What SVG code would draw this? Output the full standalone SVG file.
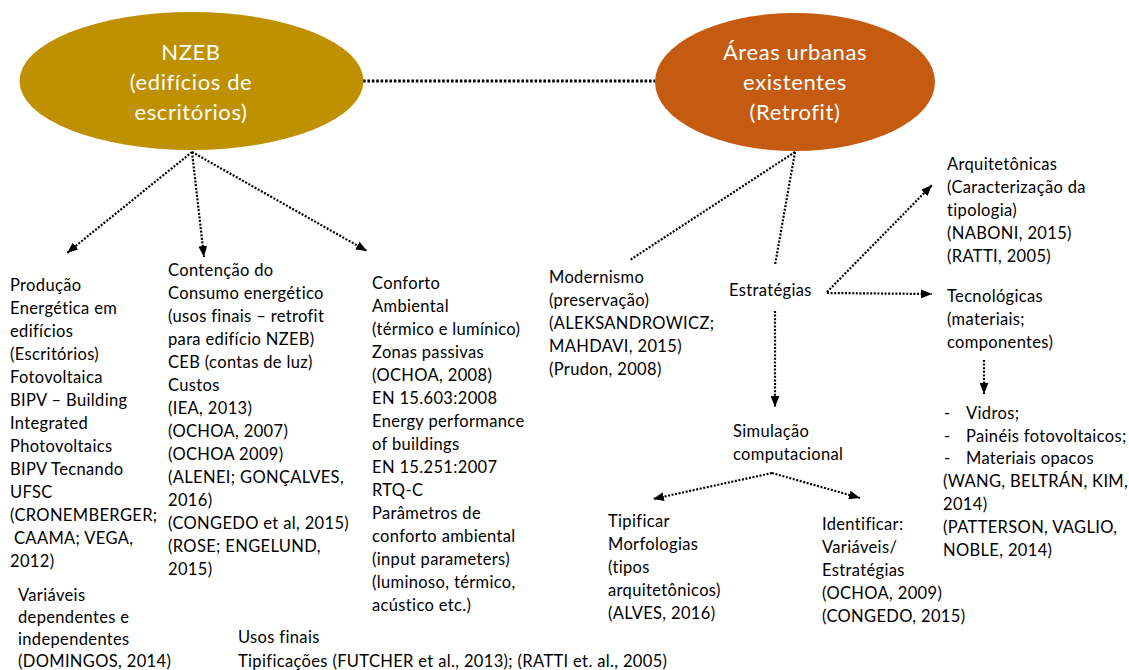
<svg xmlns="http://www.w3.org/2000/svg" width="1129" height="670" viewBox="0 0 1129 670">
  <style>
    .lbl { font-family: Lato, "Liberation Sans", sans-serif; font-size: 16.5px; letter-spacing: 0.35px; fill: #000; }
    .hub { font-family: Lato, "Liberation Sans", sans-serif; font-size: 22px; letter-spacing: 0.6px; fill: #fff; text-anchor: middle; }
    .dot { fill: none; stroke: #000; stroke-width: 2.2; stroke-dasharray: 2 1.6; }
    .dotw { fill: none; stroke: #000; stroke-width: 2.8; stroke-dasharray: 2.6 1.8; }
  </style>
  <defs>
    <marker id="arrow" viewBox="0 0 10 8" refX="10" refY="4" markerWidth="11" markerHeight="9" markerUnits="userSpaceOnUse" orient="auto">
      <path d="M0,0 L10,4 L0,8 Z" fill="#000"/>
    </marker>
  </defs>

  <rect width="1129" height="670" fill="#fff"/>

  <!-- connectors -->
  <g id="connectors">
    <line class="dotw" x1="363" y1="81" x2="655" y2="81"/>
    <line class="dot" x1="192" y1="152" x2="67" y2="253" marker-end="url(#arrow)"/>
    <line class="dot" x1="192" y1="152" x2="204" y2="257" marker-end="url(#arrow)"/>
    <line class="dot" x1="192" y1="152" x2="367" y2="251" marker-end="url(#arrow)"/>
    <line class="dot" x1="795" y1="152" x2="630" y2="260"/>
    <line class="dot" x1="795" y1="152" x2="775" y2="265"/>
    <line class="dot" x1="827" y1="292" x2="932" y2="185" marker-end="url(#arrow)"/>
    <line class="dot" x1="827" y1="293" x2="932" y2="294" marker-end="url(#arrow)"/>
    <line class="dot" x1="775" y1="311" x2="775" y2="407" marker-end="url(#arrow)"/>
    <line class="dot" x1="772" y1="473" x2="653" y2="499" marker-end="url(#arrow)"/>
    <line class="dot" x1="772" y1="473" x2="860" y2="498" marker-end="url(#arrow)"/>
    <line class="dot" x1="984" y1="360" x2="984" y2="394" marker-end="url(#arrow)"/>
  </g>

  <!-- hub: NZEB -->
  <g id="nzeb">
    <ellipse cx="191.5" cy="81" rx="172" ry="69" fill="#BF9000"/>
    <text class="hub"><tspan x="191" y="60">NZEB</tspan><tspan x="191" y="90">(edifícios de</tspan><tspan x="191" y="120">escritórios)</tspan></text>
  </g>

  <!-- hub: existing urban areas -->
  <g id="retrofit">
    <ellipse cx="795" cy="82" rx="140" ry="69" fill="#C55A11"/>
    <text class="hub"><tspan x="795" y="60">Áreas urbanas</tspan><tspan x="795" y="90">existentes</tspan><tspan x="795" y="120">(Retrofit)</tspan></text>
  </g>

  <g id="producao">
    <text class="lbl">
      <tspan x="10" y="291">Produção</tspan>
      <tspan x="10" y="314">Energética em</tspan>
      <tspan x="10" y="337">edifícios</tspan>
      <tspan x="10" y="360">(Escritórios)</tspan>
      <tspan x="10" y="383">Fotovoltaica</tspan>
      <tspan x="10" y="406">BIPV – Building</tspan>
      <tspan x="10" y="429">Integrated</tspan>
      <tspan x="10" y="452">Photovoltaics</tspan>
      <tspan x="10" y="475">BIPV Tecnando</tspan>
      <tspan x="10" y="498">UFSC</tspan>
      <tspan x="10" y="521">(CRONEMBERGER;</tspan>
      <tspan x="14" y="544">CAAMA; VEGA,</tspan>
      <tspan x="10" y="567">2012)</tspan>
    </text>
  </g>

  <g id="variaveis">
    <text class="lbl">
      <tspan x="18" y="601">Variáveis</tspan>
      <tspan x="18" y="623">dependentes e</tspan>
      <tspan x="18" y="645">independentes</tspan>
      <tspan x="18" y="667">(DOMINGOS, 2014)</tspan>
    </text>
  </g>

  <g id="contencao">
    <text class="lbl">
      <tspan x="168" y="276">Contenção do</tspan>
      <tspan x="168" y="299">Consumo energético</tspan>
      <tspan x="168" y="322">(usos finais – retrofit</tspan>
      <tspan x="168" y="345">para edifício NZEB)</tspan>
      <tspan x="168" y="368">CEB (contas de luz)</tspan>
      <tspan x="168" y="391">Custos</tspan>
      <tspan x="168" y="414">(IEA, 2013)</tspan>
      <tspan x="168" y="437">(OCHOA, 2007)</tspan>
      <tspan x="168" y="460">(OCHOA 2009)</tspan>
      <tspan x="168" y="483">(ALENEI; GONÇALVES,</tspan>
      <tspan x="168" y="506">2016)</tspan>
      <tspan x="168" y="529">(CONGEDO et al, 2015)</tspan>
      <tspan x="168" y="552">(ROSE; ENGELUND,</tspan>
      <tspan x="168" y="575">2015)</tspan>
    </text>
  </g>

  <g id="conforto">
    <text class="lbl">
      <tspan x="372" y="289">Conforto</tspan>
      <tspan x="372" y="312">Ambiental</tspan>
      <tspan x="372" y="335">(térmico e lumínico)</tspan>
      <tspan x="372" y="358">Zonas passivas</tspan>
      <tspan x="372" y="381">(OCHOA, 2008)</tspan>
      <tspan x="372" y="404">EN 15.603:2008</tspan>
      <tspan x="372" y="427">Energy performance</tspan>
      <tspan x="372" y="450">of buildings</tspan>
      <tspan x="372" y="473">EN 15.251:2007</tspan>
      <tspan x="372" y="496">RTQ-C</tspan>
      <tspan x="372" y="519">Parâmetros de</tspan>
      <tspan x="372" y="542">conforto ambiental</tspan>
      <tspan x="372" y="565">(input parameters)</tspan>
      <tspan x="372" y="588">(luminoso, térmico,</tspan>
      <tspan x="372" y="611">acústico etc.)</tspan>
    </text>
  </g>

  <g id="usos-finais">
    <text class="lbl">
      <tspan x="238" y="643">Usos finais</tspan>
      <tspan x="238" y="667">Tipificações (FUTCHER et al., 2013); (RATTI et. al., 2005)</tspan>
    </text>
  </g>

  <g id="modernismo">
    <text class="lbl">
      <tspan x="549" y="283">Modernismo</tspan>
      <tspan x="549" y="306">(preservação)</tspan>
      <tspan x="549" y="329">(ALEKSANDROWICZ;</tspan>
      <tspan x="549" y="352">MAHDAVI, 2015)</tspan>
      <tspan x="549" y="375">(Prudon, 2008)</tspan>
    </text>
  </g>

  <g id="estrategias">
    <text class="lbl"><tspan x="729" y="296">Estratégias</tspan></text>
  </g>

  <g id="simulacao">
    <text class="lbl">
      <tspan x="733" y="437">Simulação</tspan>
      <tspan x="733" y="460">computacional</tspan>
    </text>
  </g>

  <g id="tipificar">
    <text class="lbl">
      <tspan x="608" y="527">Tipificar</tspan>
      <tspan x="608" y="550">Morfologias</tspan>
      <tspan x="608" y="573">(tipos</tspan>
      <tspan x="608" y="596">arquitetônicos)</tspan>
      <tspan x="608" y="619">(ALVES, 2016)</tspan>
    </text>
  </g>

  <g id="identificar">
    <text class="lbl">
      <tspan x="822" y="530">Identificar:</tspan>
      <tspan x="822" y="553">Variáveis/</tspan>
      <tspan x="822" y="576">Estratégias</tspan>
      <tspan x="822" y="599">(OCHOA, 2009)</tspan>
      <tspan x="822" y="622">(CONGEDO, 2015)</tspan>
    </text>
  </g>

  <g id="arquitetonicas">
    <text class="lbl">
      <tspan x="947" y="170">Arquitetônicas</tspan>
      <tspan x="947" y="193">(Caracterização da</tspan>
      <tspan x="947" y="216">tipologia)</tspan>
      <tspan x="947" y="239">(NABONI, 2015)</tspan>
      <tspan x="947" y="262">(RATTI, 2005)</tspan>
    </text>
  </g>

  <g id="tecnologicas">
    <text class="lbl">
      <tspan x="947" y="302">Tecnológicas</tspan>
      <tspan x="947" y="325">(materiais;</tspan>
      <tspan x="947" y="348">componentes)</tspan>
    </text>
  </g>

  <g id="materiais">
    <text class="lbl">
      <tspan x="944" y="419">-</tspan><tspan x="966" y="419">Vidros;</tspan>
      <tspan x="944" y="442">-</tspan><tspan x="966" y="442">Painéis fotovoltaicos;</tspan>
      <tspan x="944" y="464">-</tspan><tspan x="966" y="464">Materiais opacos</tspan>
      <tspan x="943" y="487">(WANG, BELTRÁN, KIM,</tspan>
      <tspan x="943" y="510">2014)</tspan>
      <tspan x="943" y="533">(PATTERSON, VAGLIO,</tspan>
      <tspan x="943" y="556">NOBLE, 2014)</tspan>
    </text>
  </g>
</svg>
